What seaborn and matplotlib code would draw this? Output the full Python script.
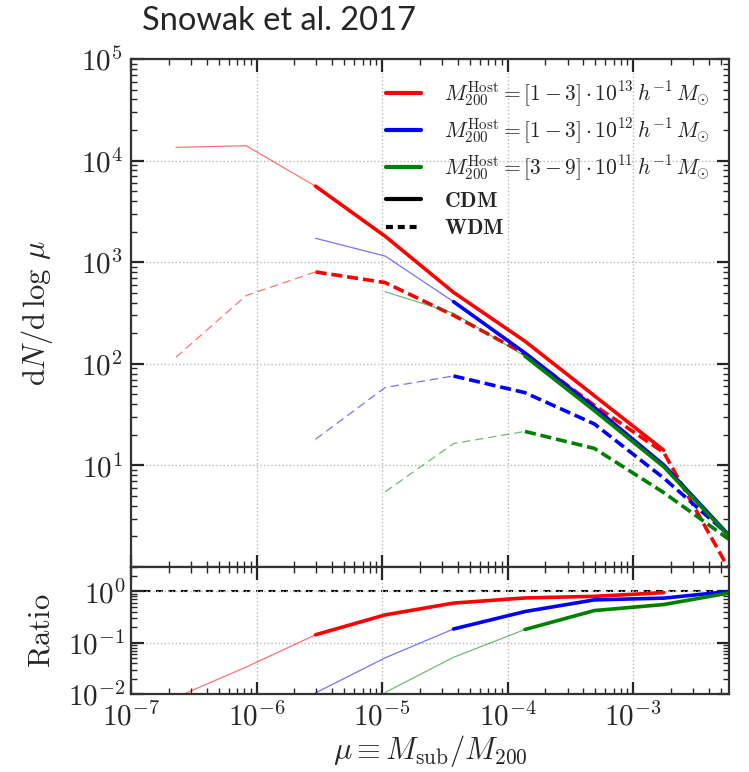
import numpy as np
import matplotlib
matplotlib.use("Agg")
import matplotlib.pyplot as plt
from matplotlib.lines import Line2D
from matplotlib.ticker import FuncFormatter, LogLocator, NullFormatter
import seaborn as sns

nan = np.nan

# Subhalo mass bins, log10(mu)
log_mu = [-6.642, -6.083, -5.530, -4.975, -4.431, -3.862, -3.309, -2.756, -2.236]

# dN/dlog(mu) per host-mass bin
cdm_13 = [1.35e4, 1.40e4, 5600, 1800, 505, 167, 48.5, 14.1, nan]
wdm_13 = [116, 470, 802, 630, 300, 125, 39, 13.4, 0.95]
cdm_12 = [nan, nan, 1720, 1148, 409, 128, 37.3, 10.1, 2.05]
wdm_12 = [nan, nan, 18.1, 58.5, 75.9, 52, 25.6, 7.5, 2.05]
cdm_11 = [nan, nan, nan, 512, 315, 119, 34.6, 9.7, 2.0]
wdm_11 = [nan, nan, nan, 5.5, 16.4, 21.6, 14.7, 5.4, 1.87]

# index where each host bin becomes resolved (thick line from here on)
resolved_from = [2, 4, 5]
colors = ["#ff0000", "#0000ff", "#008000"]
labels = [r"$M_{200}^{\rm Host}=[1-3]\cdot10^{13}\,h^{-1}\,M_{\odot}$",
          r"$M_{200}^{\rm Host}=[1-3]\cdot10^{12}\,h^{-1}\,M_{\odot}$",
          r"$M_{200}^{\rm Host}=[3-9]\cdot10^{11}\,h^{-1}\,M_{\odot}$"]

sns.set_style("ticks")
plt.rcParams["mathtext.fontset"] = "cm"
plt.rcParams["font.family"] = ["DejaVu Sans"]
plt.rcParams["lines.scale_dashes"] = False

fig = plt.figure(figsize=(7.49, 7.72), dpi=100)
ax = fig.add_axes([0.1749, 0.2655, 0.7984, 0.6581])
axr = fig.add_axes([0.1749, 0.1010, 0.7984, 0.1645], sharex=ax)

mu = 10 ** np.array(log_mu)
THICK_DASH = (0, (8, 3.5))
THIN_DASH = (0, (6, 3.5))


def draw(a, x, y, color, start, dashed):
    y = np.asarray(y, dtype=float)
    idx = np.where(~np.isnan(y))[0]
    lo, hi = idx[0], idx[-1]
    thin = slice(lo, start + 1)
    thick = slice(start, hi + 1)
    sns.lineplot(x=x[thin], y=y[thin], ax=a, color=color, lw=0.9, alpha=0.55,
                 linestyle=THIN_DASH if dashed else "-", estimator=None, sort=False)
    sns.lineplot(x=x[thick], y=y[thick], ax=a, color=color, lw=2.6,
                 linestyle=THICK_DASH if dashed else "-", estimator=None, sort=False)


series = [(cdm_13, wdm_13), (cdm_12, wdm_12), (cdm_11, wdm_11)]
for (cdm, wdm), c, s in zip(series, colors, resolved_from):
    draw(ax, mu, cdm, c, s, False)
    draw(ax, mu, wdm, c, s, True)
    ratio = np.asarray(wdm, float) / np.asarray(cdm, float)
    draw(axr, mu, ratio, c, s, False)

axr.axhline(1.0, color="k", lw=1.5, linestyle=(0, (5, 4)), zorder=0.5)

for a in (ax, axr):
    a.set_xscale("log")
    a.set_yscale("log")
    a.grid(True, which="major", linestyle=":", color="0.72", lw=1.0)
    a.tick_params(which="both", direction="in", top=True, right=True, colors="0.15")
    a.tick_params(which="major", length=9, width=1.6, labelsize=21, pad=6)
    a.tick_params(which="minor", length=4.5, width=1.0)
    for sp in a.spines.values():
        sp.set_color("0.2")
        sp.set_linewidth(1.6)
    a.xaxis.set_major_locator(LogLocator(base=10, numticks=15))
    a.xaxis.set_minor_locator(LogLocator(base=10, subs=np.arange(2, 10), numticks=15))
    a.yaxis.set_minor_locator(LogLocator(base=10, subs=np.arange(2, 10), numticks=15))
    a.xaxis.set_minor_formatter(NullFormatter())
    a.yaxis.set_minor_formatter(NullFormatter())
    a.set_xlabel("")
    a.set_ylabel("")

ax.set_xlim(1e-7, 5.8e-3)
ax.set_ylim(1, 1e5)
axr.set_ylim(1e-2, 3)

pow_fmt = FuncFormatter(lambda v, p: r"$10^{%d}$" % round(np.log10(v)))
top_fmt = FuncFormatter(lambda v, p: "" if round(np.log10(v)) < 1 else r"$10^{%d}$" % round(np.log10(v)))
ax.yaxis.set_major_locator(LogLocator(base=10, numticks=10))
axr.yaxis.set_major_locator(LogLocator(base=10, numticks=10))
ax.yaxis.set_major_formatter(top_fmt)
axr.yaxis.set_major_formatter(pow_fmt)
axr.xaxis.set_major_formatter(pow_fmt)
ax.tick_params(axis="x", labelbottom=False)
axr.tick_params(axis="y", pad=4)

ax.set_ylabel(r"$\mathrm{d}N/\mathrm{d}\,\log\,\mu$", fontsize=22)
axr.set_ylabel(r"$\mathrm{Ratio}$", fontsize=22)
ax.yaxis.set_label_coords(-0.127, 0.5)
axr.yaxis.set_label_coords(-0.127, 0.5)
axr.set_xlabel(r"$\mu\equiv M_{\rm sub}/M_{200}$", fontsize=22, labelpad=1)

handles = [Line2D([], [], color=c, lw=3) for c in colors]
handles += [Line2D([], [], color="k", lw=3),
            Line2D([], [], color="k", lw=3, linestyle=(0, (5, 3.5)))]
leg = ax.legend(handles, labels + [r"$\mathbf{CDM}$", r"$\mathbf{WDM}$"],
                loc="upper right", bbox_to_anchor=(0.99, 0.985), frameon=False,
                fontsize=15.5, handlelength=1.6, handletextpad=1.1, labelspacing=0.35,
                borderaxespad=0.2)

fig.text(142 / 749, 1 - 21 / 772, "Snowak et al. 2017", family=["Lato", "DejaVu Sans"],
         fontsize=23.5, ha="left", va="center")

fig.savefig("out.png", dpi=100)
